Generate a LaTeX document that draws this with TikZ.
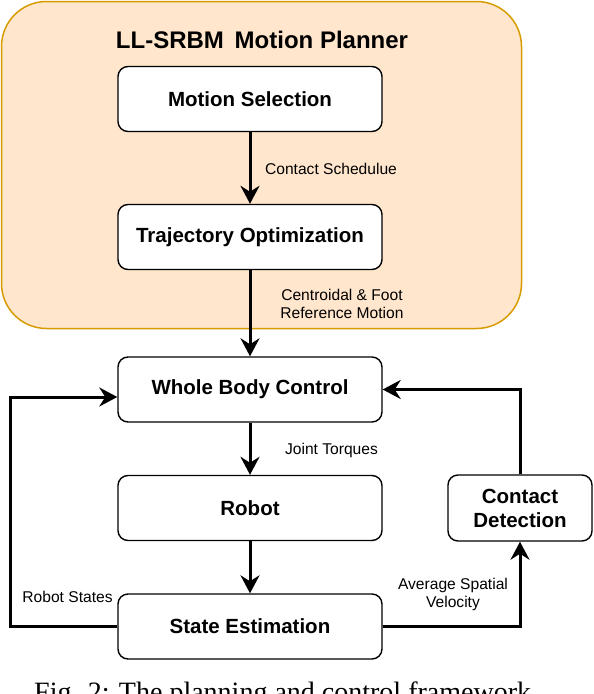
\documentclass[tikz,border=0pt]{standalone}
\usepackage{fontspec}
\setmainfont{Liberation Sans}
\newfontfamily\capfont{Liberation Serif}
\usetikzlibrary{arrows.meta}
\definecolor{plfill}{HTML}{FFE6CC}
\definecolor{plline}{HTML}{D79B00}
\tikzset{
  box/.style={draw, line width=1.4pt, rounded corners=10pt, fill=white,
    minimum width=264pt, minimum height=65pt, inner sep=0pt, align=center,
    font=\bfseries\fontsize{20.5}{24}\selectfont},
  lbl/.style={inner sep=0pt, align=center, font=\fontsize{15.6}{18}\selectfont},
  flow/.style={line width=3pt, -{Stealth[length=18pt,width=19pt,inset=6pt]}},
}
\begin{document}
\begin{tikzpicture}[x=1pt,y=-1pt]
\useasboundingbox (0,0) rectangle (594,694);
\clip (0,0) rectangle (594,694);
% planner container
\node[draw=plline, fill=plfill, line width=1.5pt, rounded corners=45pt,
  minimum width=520pt, minimum height=327pt, inner sep=0pt] (planner) at (261.5,165) {};
\node[inner sep=0pt, font=\bfseries\fontsize{24}{28}\selectfont] (title) at (262,40)
  {LL-SRBM\hskip 0.45em Motion Planner};
% boxes
\node[box] (ms) at (250,99) {Motion Selection};
\node[box] (to) at (250,237) {Trajectory Optimization};
\node[box] (wbc) at (250,389.5) {Whole Body Control};
\node[box] (rob) at (250,508) {Robot};
\node[box] (se) at (250,626.5) {State Estimation};
\node[box, minimum width=144pt, minimum height=66pt] (cd) at (520,508) {Contact\\Detection};
% connectors
\draw[flow] (ms.south) -- (to.north);
\draw[flow] (to.south) -- (wbc.north);
\draw[flow] (wbc.south) -- (rob.north);
\draw[flow] (rob.south) -- (se.north);
\coordinate (lc) at (10,397);
\draw[flow] (se.west) -| (lc) -- (wbc.west |- lc);
\draw[flow] (se.east) -| (cd.south);
\draw[flow] (cd.north) |- (wbc.east);
% labels
\node[lbl] (l1) at (331,169) {Contact Schedulue};
\node[lbl] (l2) at (342,304) {Centroidal \& Foot\\Reference Motion};
\node[lbl] (l3) at (331.5,450) {Joint Torques};
\node[lbl] (l4) at (67.5,597) {Robot States};
\node[lbl] (l5) at (453,594) {Average Spatial\\Velocity};
% caption (cut off at the bottom)
\node[anchor=base west, inner sep=0pt, font=\capfont\fontsize{28}{30}\selectfont] (cap)
  at (34,701.5) {Fig. 2: The planning and control framework.};
\end{tikzpicture}
\end{document}
